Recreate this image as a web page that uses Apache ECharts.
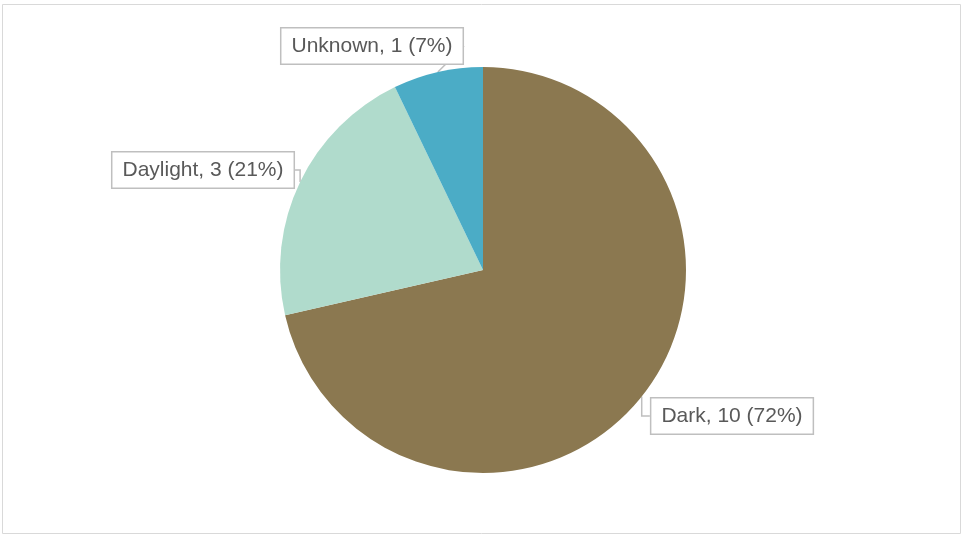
<!DOCTYPE html>
<html>
<head>
    <meta charset="UTF-8">
    <title>Light condition</title>
    <script src="https://cdn.jsdelivr.net/npm/echarts@6/dist/echarts.min.js"></script>
    <style>
        html, body { margin: 0; padding: 0; background: #fff; }
        #chart { width: 962px; height: 535px; }
    </style>
</head>
<body>
    <div id="chart"></div>
    <script>
        // data
        const categories = ['Dark', 'Daylight', 'Unknown'];
        const counts = [10, 3, 1];
        const percentLabels = ['72%', '21%', '7%'];
        const colors = ['#8b7850', '#b0dbcc', '#4bacc6'];

        // where the callout boxes sit (centre of each box)
        const labelSpots = [[732, 416], [203, 170], [372, 46]];

        const chart = echarts.init(document.getElementById('chart'));

        chart.setOption({
            animation: false,
            graphic: [{
                type: 'rect',
                shape: { x: 2.5, y: 4.5, width: 958, height: 529 },
                style: { fill: 'none', stroke: '#d9d9d9', lineWidth: 1 },
                silent: true
            }],
            series: [{
                type: 'pie',
                center: [483, 270],
                radius: 203,
                startAngle: 90,
                clockwise: true,
                itemStyle: { borderWidth: 0 },
                data: categories.map((c, i) => ({
                    name: c,
                    value: counts[i],
                    itemStyle: { color: colors[i] }
                })),
                label: {
                    show: true,
                    position: 'outside',
                    formatter: p => `${p.name}, ${p.value} (${percentLabels[p.dataIndex]})`,
                    fontFamily: 'Liberation Sans',
                    fontSize: 21,
                    color: '#595959',
                    backgroundColor: '#fff',
                    borderColor: '#bfbfbf',
                    borderWidth: 1.5,
                    padding: [7, 10, 7, 10],
                    borderRadius: 0
                },
                labelLine: {
                    show: true,
                    length: 10,
                    length2: 10,
                    lineStyle: { color: '#bfbfbf', width: 1.5 }
                },
                labelLayout: params => ({
                    x: labelSpots[params.dataIndex][0],
                    y: labelSpots[params.dataIndex][1],
                    align: 'center',
                    verticalAlign: 'middle'
                })
            }]
        });
    </script>
</body>
</html>
